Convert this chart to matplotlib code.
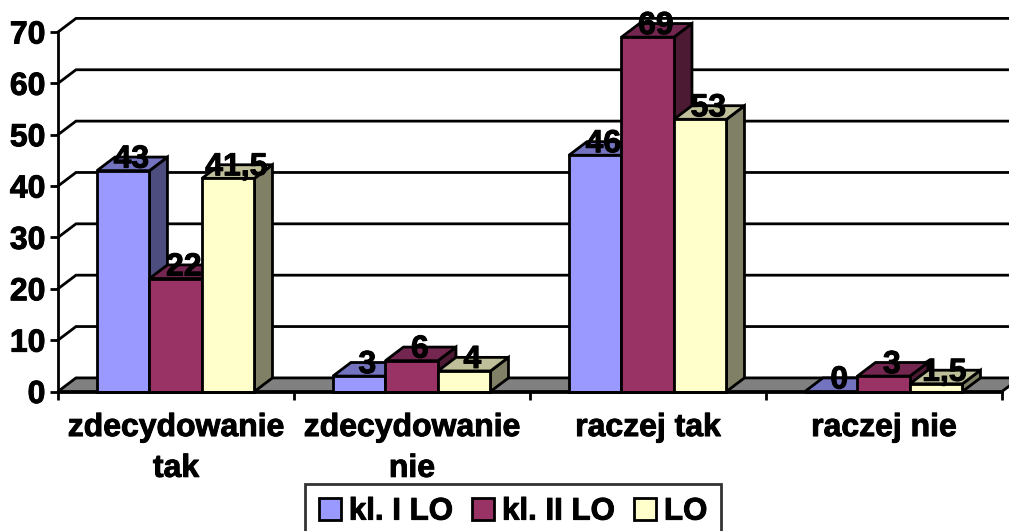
import matplotlib
matplotlib.use('Agg')
import matplotlib.pyplot as plt
import matplotlib.patheffects as pe
from matplotlib.patches import Patch

categories = ["zdecydowanie\ntak", "zdecydowanie\nnie", "raczej tak", "raczej nie"]
series_names = ["kl. I LO", "kl. II LO", "LO"]
kl1_values = [43, 3, 46, 0]
kl2_values = [22, 6, 69, 3]
lo_values = [41.5, 4, 53, 1.5]
y_ticks = [0, 10, 20, 30, 40, 50, 60, 70]

front_colors = ['#9999FF', '#993366', '#FFFFCC']
top_colors = ['#7373BF', '#732650', '#BFBF99']
side_colors = ['#4D4D80', '#4D1A33', '#808066']

W, H = 1009, 531
plt.rcParams['font.family'] = ['Liberation Sans', 'DejaVu Sans']
plt.rcParams['font.weight'] = 'bold'
FS = 23
# the reference text is a bit heavier than plain bold
heavy = [pe.withStroke(linewidth=0.7, foreground='black')]

fig = plt.figure(figsize=(W / 100, H / 100), dpi=100)
ax = fig.add_axes([58 / W, (H - 391.5) / H, 944 / W, 359.5 / H])
ax.set_xlim(0, 4)
ax.set_ylim(0, 70)

# depth of the fake 3d box, in data units
dx = 18 / 236
dy = 13.6 / 5.136
bar_w = 0.2225
start = 0.165
LW = 2.0

# floor
ax.fill([0, dx, 4 + dx, 4], [0, dy, dy, 0], facecolor='#808080', edgecolor='black',
        linewidth=LW, clip_on=False, zorder=1)

# gridlines on the back wall and left wall
for t in y_ticks[1:]:
    ax.plot([0, dx, 4 + dx], [t, t + dy, t + dy], color='black', lw=LW, clip_on=False,
            zorder=1, solid_joinstyle='miter')

z = 2
all_values = [kl1_values, kl2_values, lo_values]
for c in range(len(categories)):
    for s, vals in enumerate(all_values):
        v = vals[c]
        x = c + start + s * bar_w
        # side, top, then front
        ax.fill([x + bar_w, x + bar_w + dx, x + bar_w + dx, x + bar_w],
                [0, dy, v + dy, v], facecolor=side_colors[s], edgecolor='black',
                linewidth=LW, clip_on=False, zorder=z, joinstyle='miter')
        ax.fill([x, x + dx, x + bar_w + dx, x + bar_w],
                [v, v + dy, v + dy, v], facecolor=top_colors[s], edgecolor='black',
                linewidth=LW, clip_on=False, zorder=z, joinstyle='miter')
        ax.bar(x, v, bar_w, align='edge', color=front_colors[s], edgecolor='black',
               linewidth=LW, clip_on=False, zorder=z)
        z += 1

# data labels sit on the back edge of each top face
for c in range(len(categories)):
    for s, vals in enumerate(all_values):
        v = vals[c]
        x = c + start + s * bar_w + bar_w / 2 + dx * 0.45
        ax.text(x, v + dy - 0.5, f'{v}'.replace('.', ','), ha='center', va='center',
                fontsize=FS, fontweight='bold', color='black', zorder=50, clip_on=False,
                path_effects=heavy)

for side in ['top', 'right']:
    ax.spines[side].set_visible(False)
for side in ['left', 'bottom']:
    ax.spines[side].set_linewidth(LW)
    ax.spines[side].set_zorder(40)

ax.set_xticks([0, 1, 2, 3, 4])
ax.set_xticklabels([])
ax.set_xticks([0.5, 1.5, 2.5, 3.5], minor=True)
ax.set_xticklabels(categories, minor=True, fontsize=FS, fontweight='bold', linespacing=1.47,
                   path_effects=heavy)
ax.tick_params(axis='x', which='minor', length=0, pad=15.5)
ax.tick_params(axis='x', which='major', length=6, width=LW)
ax.set_yticks(y_ticks)
ax.set_yticklabels([str(t) for t in y_ticks], fontsize=FS, fontweight='bold', path_effects=heavy)
ax.tick_params(axis='y', length=6, width=LW, pad=3)
ax.patch.set_alpha(0)

handles = [Patch(facecolor=front_colors[i], edgecolor='black', linewidth=LW) for i in range(3)]
leg = fig.legend(handles, series_names, loc='upper center',
                 bbox_to_anchor=(513 / W, (H - 483.5) / H),
                 ncol=3, frameon=True, fancybox=False, edgecolor='black', fontsize=22.5,
                 handlelength=0.72, handleheight=0.72, handletextpad=0.25, columnspacing=0.6,
                 borderpad=0.42, borderaxespad=0)
leg.get_frame().set_linewidth(LW)
for t in leg.get_texts():
    t.set_path_effects(heavy)

fig.savefig('out.png', dpi=100)
